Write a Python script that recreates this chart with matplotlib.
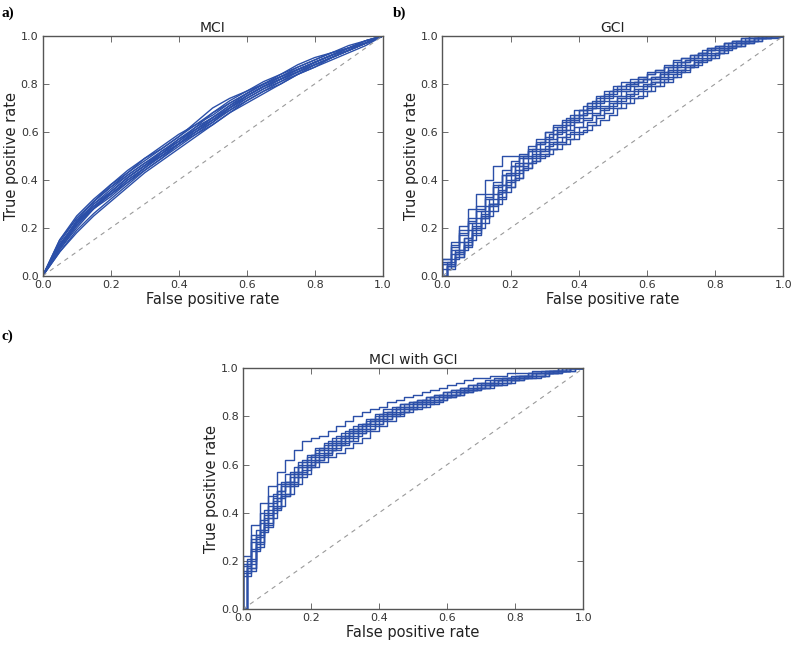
import numpy as np
import matplotlib.pyplot as plt

# --- data ---
fpr_mci = [0, .05, .1, .15, .2, .25, .3, .35, .4, .45, .5,
           .55, .6, .65, .7, .75, .8, .85, .9, .95, 1]
tpr_mci = [
    [0, .15, .25, .32, .38, .43, .48, .53, .58, .64, .70, .74, .77, .80, .83, .86, .89, .92, .95, .97, 1],
    [0, .12, .21, .28, .34, .40, .45, .50, .55, .60, .65, .70, .75, .79, .82, .86, .89, .92, .95, .98, 1],
    [0, .10, .18, .25, .31, .37, .43, .48, .53, .58, .63, .68, .73, .77, .80, .84, .87, .90, .93, .96, 1],
    [0, .14, .24, .31, .37, .43, .49, .54, .59, .63, .67, .72, .76, .80, .84, .87, .90, .93, .96, .98, 1],
    [0, .12, .22, .30, .35, .41, .46, .51, .56, .61, .65, .70, .74, .78, .82, .85, .88, .91, .94, .97, 1],
    [0, .13, .22, .28, .33, .39, .45, .50, .55, .59, .64, .69, .73, .77, .81, .84, .88, .91, .94, .97, 1],
    [0, .12, .23, .31, .38, .44, .49, .53, .58, .63, .68, .73, .77, .81, .84, .88, .91, .93, .95, .98, 1],
    [0, .10, .19, .26, .32, .38, .44, .49, .54, .59, .63, .68, .72, .76, .80, .84, .87, .91, .94, .97, 1],
    [0, .15, .24, .31, .37, .42, .47, .52, .56, .62, .68, .72, .76, .80, .83, .86, .89, .92, .95, .97, 1],
    [0, .11, .20, .28, .35, .41, .46, .50, .55, .61, .66, .71, .75, .79, .82, .85, .88, .91, .94, .97, 1],
    [0, .13, .22, .29, .34, .40, .45, .51, .57, .62, .66, .70, .75, .79, .83, .87, .90, .93, .95, .98, 1],
    [0, .12, .22, .30, .36, .42, .47, .51, .55, .60, .64, .70, .75, .79, .82, .85, .89, .92, .94, .97, 1],
    [0, .13, .23, .29, .35, .41, .46, .52, .57, .61, .66, .71, .76, .80, .83, .86, .89, .92, .95, .97, 1],
    [0, .11, .21, .29, .34, .39, .44, .49, .55, .60, .65, .69, .74, .78, .81, .85, .88, .91, .94, .97, 1],
]

fpr_step = [0, .025, .05, .075, .1, .125, .15, .175, .2, .225, .25, .275, .3, .325,
            .35, .375, .4, .425, .45, .475, .5, .525, .55, .575, .6, .625, .65,
            .675, .7, .725, .75, .775, .8, .825, .85, .875, .9, .925, .95, .975, 1]

tpr_gci = [
    [0, .07, .14, .21, .28, .34, .40, .46, .50, .50, .50, .52, .55, .58, .61, .63, .65, .67, .70, .72, .74, .75, .77, .79, .81, .82, .83, .85, .87, .89, .91, .93, .95, .96, .97, .98, .99, 1, 1, 1, 1],
    [0, .04, .09, .13, .18, .24, .30, .36, .42, .46, .49, .51, .53, .57, .61, .65, .67, .69, .71, .73, .76, .78, .80, .81, .82, .83, .84, .86, .88, .90, .91, .93, .94, .95, .96, .97, .98, .99, .99, 1, 1],
    [0, .03, .07, .11, .15, .20, .25, .30, .35, .40, .44, .47, .49, .51, .53, .55, .57, .60, .63, .66, .68, .70, .72, .74, .75, .77, .79, .81, .83, .85, .87, .89, .91, .93, .94, .96, .97, .98, .99, 1, 1],
    [0, .06, .11, .16, .22, .27, .32, .38, .43, .47, .50, .53, .56, .59, .62, .66, .69, .71, .73, .75, .77, .79, .80, .81, .82, .83, .85, .87, .89, .90, .92, .94, .95, .96, .97, .98, .99, .99, 1, 1, 1],
    [0, .05, .09, .14, .19, .24, .29, .34, .38, .42, .46, .49, .52, .54, .56, .58, .60, .62, .64, .67, .70, .72, .74, .76, .78, .80, .81, .82, .84, .86, .88, .90, .92, .93, .95, .96, .97, .98, .99, 1, 1],
    [0, .04, .10, .16, .21, .26, .30, .35, .40, .44, .47, .50, .53, .56, .60, .63, .66, .68, .70, .71, .73, .75, .77, .79, .80, .82, .84, .86, .87, .88, .89, .91, .92, .94, .96, .97, .98, .99, 1, 1, 1],
    [0, .06, .12, .18, .23, .28, .33, .38, .42, .46, .49, .52, .55, .57, .59, .61, .64, .67, .70, .73, .75, .77, .78, .80, .82, .84, .86, .87, .88, .89, .91, .92, .94, .95, .96, .97, .98, .99, 1, 1, 1],
    [0, .03, .08, .12, .17, .22, .27, .32, .37, .41, .45, .48, .51, .53, .55, .57, .59, .61, .63, .65, .67, .70, .72, .74, .77, .79, .81, .83, .85, .87, .89, .90, .92, .94, .95, .96, .97, .98, .99, .99, 1],
    [0, .05, .11, .17, .22, .27, .32, .37, .42, .46, .50, .53, .56, .60, .63, .65, .67, .69, .72, .74, .76, .78, .79, .81, .83, .85, .86, .88, .90, .91, .92, .93, .94, .95, .97, .98, .99, 1, 1, 1, 1],
    [0, .04, .08, .13, .19, .24, .29, .33, .37, .41, .45, .48, .50, .53, .56, .59, .62, .65, .67, .69, .71, .73, .75, .77, .79, .81, .83, .85, .86, .87, .88, .90, .91, .93, .95, .96, .97, .98, .99, 1, 1],
    [0, .07, .13, .19, .24, .29, .34, .39, .44, .48, .51, .54, .57, .60, .62, .64, .66, .69, .72, .75, .77, .79, .81, .82, .83, .84, .85, .87, .89, .91, .92, .93, .95, .96, .97, .98, .98, .99, 1, 1, 1],
    [0, .05, .09, .14, .20, .25, .30, .35, .39, .43, .47, .50, .52, .55, .58, .61, .64, .66, .68, .70, .72, .74, .76, .78, .79, .81, .82, .84, .86, .88, .90, .92, .93, .94, .96, .97, .98, .99, .99, 1, 1],
]

tpr_both = [
    [0, .22, .35, .44, .51, .57, .62, .66, .70, .71, .72, .74, .76, .78, .80, .82, .83, .84, .86, .87, .88, .89, .90, .91, .92, .93, .94, .95, .96, .96, .97, .97, .98, .98, .98, .99, .99, .99, 1, 1, 1],
    [0, .17, .27, .35, .42, .48, .53, .57, .60, .63, .65, .67, .69, .71, .73, .75, .77, .79, .81, .83, .84, .85, .86, .87, .88, .89, .90, .91, .92, .93, .94, .95, .96, .96, .97, .97, .98, .98, .99, 1, 1],
    [0, .14, .24, .32, .38, .43, .48, .52, .56, .59, .61, .63, .65, .67, .69, .71, .74, .76, .78, .80, .82, .83, .84, .85, .87, .88, .89, .90, .91, .92, .93, .94, .95, .95, .96, .97, .97, .98, .99, .99, 1],
    [0, .20, .31, .39, .46, .52, .56, .60, .63, .66, .68, .70, .72, .74, .76, .78, .80, .82, .83, .84, .85, .86, .87, .88, .89, .90, .91, .92, .93, .94, .95, .96, .96, .97, .97, .98, .98, .99, .99, 1, 1],
    [0, .16, .28, .36, .43, .49, .53, .56, .59, .61, .63, .66, .69, .72, .75, .77, .79, .81, .82, .83, .84, .86, .87, .88, .89, .90, .90, .91, .92, .93, .94, .95, .95, .96, .97, .98, .98, .99, .99, 1, 1],
    [0, .19, .30, .38, .45, .51, .55, .59, .62, .65, .67, .69, .71, .73, .75, .77, .79, .81, .83, .85, .86, .87, .88, .89, .90, .91, .92, .93, .94, .94, .95, .96, .96, .97, .98, .98, .99, .99, 1, 1, 1],
    [0, .15, .25, .33, .40, .46, .51, .55, .58, .61, .64, .66, .68, .70, .72, .74, .76, .78, .80, .81, .83, .84, .85, .86, .87, .88, .89, .90, .91, .92, .93, .93, .94, .95, .96, .96, .97, .98, .99, .99, 1],
    [0, .21, .33, .41, .48, .53, .57, .61, .64, .67, .69, .71, .73, .75, .77, .79, .81, .83, .84, .85, .86, .87, .88, .89, .90, .91, .92, .93, .94, .95, .96, .96, .97, .97, .98, .98, .99, .99, 1, 1, 1],
    [0, .18, .29, .37, .44, .49, .53, .57, .61, .64, .67, .70, .72, .74, .76, .77, .78, .80, .82, .84, .85, .86, .87, .88, .89, .89, .90, .91, .92, .93, .94, .95, .96, .97, .97, .98, .98, .99, 1, 1, 1],
    [0, .16, .26, .34, .41, .47, .52, .56, .60, .62, .64, .66, .68, .70, .73, .75, .77, .79, .80, .82, .83, .85, .86, .87, .88, .89, .90, .91, .92, .93, .93, .94, .95, .96, .96, .97, .98, .98, .99, 1, 1],
    [0, .19, .31, .40, .47, .52, .56, .59, .62, .64, .66, .68, .70, .72, .74, .76, .78, .79, .81, .82, .84, .85, .86, .87, .88, .89, .91, .92, .93, .94, .95, .95, .96, .97, .97, .98, .99, .99, .99, 1, 1],
    [0, .17, .28, .36, .42, .47, .51, .55, .59, .62, .65, .68, .71, .73, .75, .77, .79, .80, .81, .82, .83, .84, .85, .86, .88, .89, .90, .91, .92, .92, .93, .94, .95, .96, .97, .97, .98, .99, .99, 1, 1],
]

titles = ["MCI", "GCI", "MCI with GCI"]
panel_tags = ["a)", "b)", "c)"]

line_color = '#2b4fa8'
ticks = [0.0, 0.2, 0.4, 0.6, 0.8, 1.0]
step_styles = ['steps-pre', 'steps-mid']


def style_axes(ax, title):
    ax.plot([0, 1], [0, 1], ls='--', color='#9a9a9a', lw=0.8, dashes=(4, 4))
    ax.set_xlim(0, 1)
    ax.set_ylim(0, 1)
    ax.set_xticks(ticks)
    ax.set_yticks(ticks)
    ax.set_xticklabels([f"{t:.1f}" for t in ticks])
    ax.set_yticklabels([f"{t:.1f}" for t in ticks])
    ax.tick_params(direction='in', top=True, right=True, length=4,
                   width=0.6, labelsize=8, colors='#555555', labelcolor='#333333', pad=3)
    for sp in ax.spines.values():
        sp.set_color('#555555')
        sp.set_linewidth(1.0)
    ax.set_title(title, fontsize=10, color='#222222', pad=3)
    ax.set_xlabel("False positive rate", fontsize=10.5, color='#222222', labelpad=1)
    ax.set_ylabel("True positive rate", fontsize=10.5, color='#222222', labelpad=1)


fig = plt.figure(figsize=(7.99, 6.46), dpi=100)
ax_a = fig.add_axes([0.0534, 0.5728, 0.4255, 0.3715])
ax_b = fig.add_axes([0.5536, 0.5728, 0.4268, 0.3715])
ax_c = fig.add_axes([0.3038, 0.0568, 0.4262, 0.3731])

for curve in tpr_mci:
    ax_a.plot(fpr_mci, curve, color=line_color, lw=1.0)
for i, curve in enumerate(tpr_gci):
    ax_b.plot(fpr_step, curve, color=line_color, lw=1.0,
              drawstyle=step_styles[i % 2])
for i, curve in enumerate(tpr_both):
    ax_c.plot(fpr_step, curve, color=line_color, lw=1.0,
              drawstyle=step_styles[i % 2])

for ax, title in zip([ax_a, ax_b, ax_c], titles):
    style_axes(ax, title)

tag_pos = [(0.002, 0.99), (0.492, 0.99), (0.002, 0.49)]
for tag, (x, y) in zip(panel_tags, tag_pos):
    fig.text(x, y, tag, fontsize=11, fontweight='bold', family='Liberation Serif',
             ha='left', va='top')

fig.savefig("out.png", dpi=100)
